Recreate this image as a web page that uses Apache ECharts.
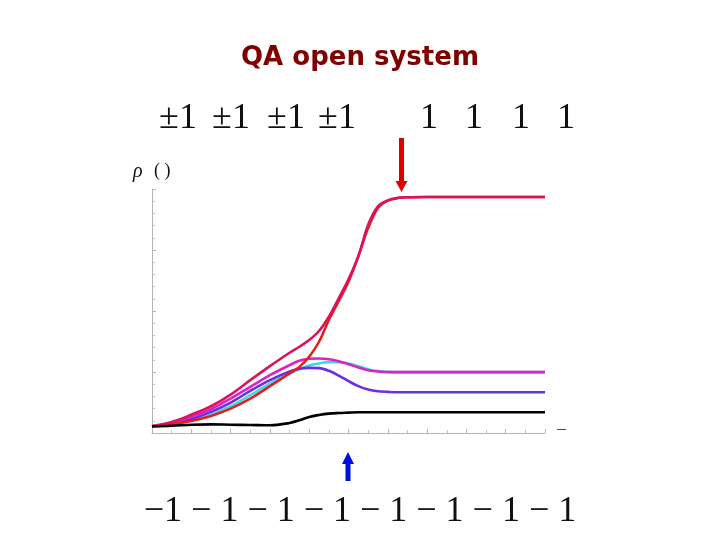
<!DOCTYPE html>
<html>
<head>
<meta charset="utf-8">
<script src="https://cdn.jsdelivr.net/npm/echarts@6/dist/echarts.min.js"></script>
<style>html,body{margin:0;padding:0;background:#fff;}#c{width:720px;height:540px;}</style>
</head>
<body>
<div id="c"></div>
<script>
const title = 'QA open system';
const topLabels = ['\u00b11', '\u00b11', '\u00b11', '\u00b11', '1', '1', '1', '1'];
const bottomLabel = '\u22121 \u2212 1 \u2212 1 \u2212 1 \u2212 1 \u2212 1 \u2212 1 \u2212 1';
const xs = [0, 1, 2, 3, 4, 5, 6, 7, 7.5, 8, 8.5, 9, 9.5, 10, 10.5, 11, 11.5, 12, 12.5, 13, 14, 16, 20];
const crimson = [0.55, 0.9, 1.5, 2.19, 3.15, 4.33, 5.48, 6.58, 7.07, 7.62, 8.36, 9.53, 11.04, 12.6, 14.47, 17.07, 18.58, 19.07, 19.26, 19.32, 19.34, 19.34, 19.34];
const red = [0.55, 0.71, 0.99, 1.4, 2.0, 2.82, 3.84, 4.88, 5.42, 6.25, 7.48, 9.26, 10.8, 12.4, 14.5, 16.8, 18.45, 19.05, 19.26, 19.32, 19.34, 19.34, 19.34];
const magenta = [0.55, 0.82, 1.32, 1.95, 2.82, 3.78, 4.74, 5.56, 5.92, 6.08, 6.11, 6.05, 5.89, 5.64, 5.37, 5.15, 5.04, 4.99, 4.99, 4.99, 4.99, 4.99, 4.99];
const purple = [0.55, 0.77, 1.15, 1.73, 2.49, 3.45, 4.33, 5.04, 5.26, 5.34, 5.32, 5.1, 4.71, 4.25, 3.84, 3.56, 3.42, 3.37, 3.34, 3.34, 3.34, 3.34, 3.34];
const cyan = [0.55, 0.74, 1.04, 1.51, 2.19, 3.1, 4.05, 4.88, 5.23, 5.53, 5.7, 5.81, 5.81, 5.7, 5.48, 5.23, 5.07, 5.01, 4.99, 4.99, 4.99, 4.99, 4.99];
const black = [0.55, 0.6, 0.68, 0.71, 0.68, 0.66, 0.63, 0.82, 1.04, 1.32, 1.48, 1.59, 1.64, 1.67, 1.7, 1.7, 1.7, 1.7, 1.7, 1.7, 1.7, 1.7, 1.7];

const seriesDefs = [
  {name: 'cyan', data: cyan, color: '#3fd8e6'},
  {name: 'purple', data: purple, color: '#6d2ee0'},
  {name: 'magenta', data: magenta, color: '#dc22c0'},
  {name: 'red', data: red, color: '#e0201c'},
  {name: 'crimson', data: crimson, color: '#dc1260'},
  {name: 'black', data: black, color: '#000000'}
];

const chart = echarts.init(document.getElementById('c'), null, {renderer: 'canvas'});
const topCenters = [178, 231, 286, 337, 429, 474, 521, 566];
const graphics = [
  {type: 'text', left: 'center', top: 45, style: {text: title, fill: '#800000', font: 'bold 26px "DejaVu Sans"'}},
  {type: 'text', left: 'center', top: 494, style: {text: bottomLabel, fill: '#111', font: '36px "Liberation Serif"'}},
  {type: 'text', x: 133, y: 162, style: {text: '\u03c1', fill: '#111', font: 'italic 20px "Liberation Serif"'}},
  {type: 'text', x: 154, y: 162, style: {text: '( )', fill: '#111', font: '18px "Liberation Serif"'}},
  {type: 'text', x: 557, y: 420, style: {text: '\u2013', fill: '#444', font: '18px "Liberation Serif"'}},
  // red arrow
  {type: 'rect', shape: {x: 399, y: 138, width: 5, height: 44}, style: {fill: '#e00000'}},
  {type: 'polygon', shape: {points: [[395.5, 181], [407.5, 181], [401.5, 192]]}, style: {fill: '#e00000'}},
  // blue arrow
  {type: 'rect', shape: {x: 345.5, y: 462, width: 5, height: 19}, style: {fill: '#0010e0'}},
  {type: 'polygon', shape: {points: [[342, 464], [354, 464], [348, 452]]}, style: {fill: '#0010e0'}}
];
topLabels.forEach((t, i) => {
  graphics.push({type: 'text', x: topCenters[i], y: 101, style: {text: t, fill: '#111', font: '36px "Liberation Serif"', align: 'center'}});
});

chart.setOption({
  animation: false,
  backgroundColor: '#ffffff',
  grid: {left: 152, right: 175, top: 189, bottom: 107},
  xAxis: {
    type: 'value', min: 0, max: 20, interval: 2,
    axisLine: {show: true, lineStyle: {color: '#b4b4b4', width: 1}},
    axisTick: {show: true, inside: true, length: 4, lineStyle: {color: '#b4b4b4'}},
    minorTick: {show: true, splitNumber: 2, length: 3, lineStyle: {color: '#c4c4c4'}},
    axisLabel: {show: false},
    splitLine: {show: false}
  },
  yAxis: {
    type: 'value', min: 0, max: 20, interval: 5,
    axisLine: {show: true, lineStyle: {color: '#b4b4b4', width: 1}},
    axisTick: {show: true, inside: true, length: 4, lineStyle: {color: '#b4b4b4'}},
    minorTick: {show: true, splitNumber: 5, length: 3, lineStyle: {color: '#c4c4c4'}},
    axisLabel: {show: false},
    splitLine: {show: false}
  },
  series: seriesDefs.map(s => ({
    type: 'line', name: s.name,
    data: xs.map((x, i) => [x, s.data[i]]),
    smooth: 0.35,
    showSymbol: false,
    lineStyle: {color: s.color, width: 2.6},
    itemStyle: {color: s.color}
  })),
  graphic: graphics
});
</script>
</body>
</html>
